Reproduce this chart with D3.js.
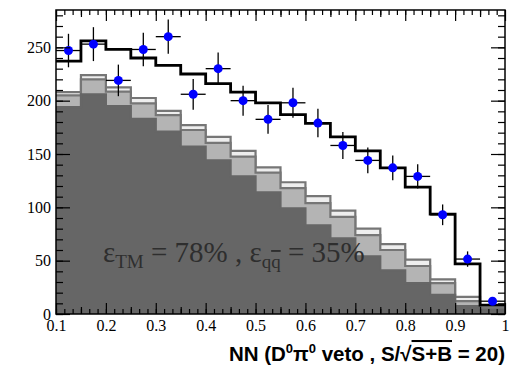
<!DOCTYPE html>
<html>
<head>
<meta charset="utf-8">
<script src="https://cdn.jsdelivr.net/npm/d3@7"></script>
<style>
  body { margin: 0; background: #fff; }
  svg text { font-family: "Liberation Serif", "Times New Roman", serif; }
</style>
</head>
<body>
<div id="chart"></div>
<script>
// bin centres of the NN output histogram (bin width 0.05)
var binCenters = [0.125, 0.175, 0.225, 0.275, 0.325, 0.375, 0.425, 0.475, 0.525,
                  0.575, 0.625, 0.675, 0.725, 0.775, 0.825, 0.875, 0.925, 0.975];
var binWidth = 0.05;

// stacked background components (bottom to top)
var bkgDark  = [194, 206, 195, 183, 171, 157, 144, 129, 114, 99, 83, 71, 54, 41, 29, 18, 7.5, 4];
var bkgLight = [11, 14, 13.5, 14.5, 15.5, 15.5, 16.5, 18.5, 18.5, 19, 21, 20, 20, 19, 16, 11, 4.5, 1.5];
var bkgTop   = [3, 4, 4, 5, 4, 4.5, 5.5, 5.5, 5, 5.5, 6.5, 6, 6, 5.5, 6, 3.5, 4, 2.5];

// total expectation (black line)
var totalMC = [237, 256, 248, 240, 233, 225, 216, 208, 198, 187, 178.7, 166, 153, 137, 119, 93.7, 47, 8.4];

// data points and their errors
var dataVals = [247, 253, 219, 248, 260, 206, 230, 200, 182.5, 198, 179, 158, 144, 137, 129, 93, 51.5, 12];
var dataErrs = [15.7, 15.9, 14.8, 15.7, 16.1, 14.4, 15.2, 14.1, 13.5, 14.1, 13.4, 12.6, 12, 11.7, 11.4, 9.7, 7.2, 3.5];

var xTicks = [0.1, 0.2, 0.3, 0.4, 0.5, 0.6, 0.7, 0.8, 0.9, 1];
var yTicks = [0, 50, 100, 150, 200, 250];

var margin = {top: 10, right: 13, bottom: 56, left: 56},
    width = 518 - margin.left - margin.right,
    height = 370 - margin.top - margin.bottom;

var svg = d3.select("#chart")
  .append("svg")
    .attr("width", 518)
    .attr("height", 370)
  .append("g")
    .attr("transform", "translate(" + margin.left + "," + margin.top + ")");

var x = d3.scaleLinear().domain([0.1, 1]).range([0, width]);
var y = d3.scaleLinear().domain([0, 285]).range([height, 0]);

// build step series: one point per bin low edge plus closing point
function steps(vals) {
  var pts = vals.map(function(v, i) { return [binCenters[i] - binWidth / 2, v]; });
  pts.push([binCenters[vals.length - 1] + binWidth / 2, vals[vals.length - 1]]);
  return pts;
}

var cumDark = bkgDark.slice();
var cumLight = bkgDark.map(function(v, i) { return v + bkgLight[i]; });
var cumTop = cumLight.map(function(v, i) { return v + bkgTop[i]; });

var area = d3.area()
  .curve(d3.curveStepAfter)
  .x(function(d) { return x(d[0]); })
  .y0(height)
  .y1(function(d) { return y(d[1]); });

var line = d3.line()
  .curve(d3.curveStepAfter)
  .x(function(d) { return x(d[0]); })
  .y(function(d) { return y(d[1]); });

var layers = [
  {vals: cumTop, fill: "#eeeeee", stroke: "#767676"},
  {vals: cumLight, fill: "#b4b4b4", stroke: "#767676"},
  {vals: cumDark, fill: "#666666", stroke: "#666666"}
];

layers.forEach(function(l) {
  svg.append("path").attr("d", area(steps(l.vals))).attr("fill", l.fill);
  svg.append("path").attr("d", line(steps(l.vals)))
    .attr("fill", "none").attr("stroke", l.stroke).attr("stroke-width", 2.2);
});

// annotation text
var ann = svg.append("text")
  .attr("x", 47)
  .attr("y", 252)
  .attr("fill", "#2e2e2e")
  .style("font-size", "29px");
ann.append("tspan").text("ε");
ann.append("tspan").attr("dy", 6).style("font-size", "19px").text("TM");
ann.append("tspan").attr("dy", -6).text(" = 78% , ε");
ann.append("tspan").attr("dy", 6).style("font-size", "19px").text("q");
ann.append("tspan").style("font-size", "19px").style("text-decoration", "overline").text("q");
ann.append("tspan").attr("dy", -6).text(" = 35%");

// total expectation
svg.append("path")
  .attr("d", line(steps(totalMC)))
  .attr("fill", "none")
  .attr("stroke", "#000")
  .attr("stroke-width", 2.8);

// data error bars
var pts = svg.selectAll(".pt")
  .data(binCenters.map(function(c, i) { return {x: c, v: dataVals[i], e: dataErrs[i]}; }))
  .enter().append("g").attr("class", "pt");

pts.append("line")
  .attr("x1", function(d) { return x(d.x - binWidth / 2); })
  .attr("x2", function(d) { return x(d.x + binWidth / 2); })
  .attr("y1", function(d) { return y(d.v); })
  .attr("y2", function(d) { return y(d.v); })
  .attr("stroke", "#000").attr("stroke-width", 1.3);
pts.append("line")
  .attr("x1", function(d) { return x(d.x); })
  .attr("x2", function(d) { return x(d.x); })
  .attr("y1", function(d) { return y(d.v - d.e); })
  .attr("y2", function(d) { return y(d.v + d.e); })
  .attr("stroke", "#000").attr("stroke-width", 1.3);
pts.append("circle")
  .attr("cx", function(d) { return x(d.x); })
  .attr("cy", function(d) { return y(d.v); })
  .attr("r", 4.5)
  .attr("fill", "#0000ff");

// axes (ticks inward, ROOT style)
function styleAxis(g) {
  g.select(".domain").remove();
  g.selectAll(".tick line").attr("stroke", "#000").attr("stroke-width", 1.2);
  g.selectAll("text").attr("fill", "#000").style("font-size", "16px")
    .style("font-family", "'Liberation Serif', serif");
}

var yMinor = d3.range(0, 285, 10);
var xMid = d3.range(0.15, 1, 0.1);
var xSmall = d3.range(0, 54).map(function(i) { return 0.1 + i / 60; });

svg.append("g").call(d3.axisLeft(y).tickValues(yMinor).tickSize(-7).tickFormat("")).call(styleAxis);
svg.append("g").call(d3.axisLeft(y).tickValues(yTicks).tickSize(-14).tickPadding(5)).call(styleAxis);
svg.append("g").attr("transform", "translate(" + width + ",0)")
  .call(d3.axisRight(y).tickValues(yMinor).tickSize(-7).tickFormat("")).call(styleAxis);
svg.append("g").attr("transform", "translate(" + width + ",0)")
  .call(d3.axisRight(y).tickValues(yTicks).tickSize(-14).tickFormat("")).call(styleAxis);

svg.append("g").attr("transform", "translate(0," + height + ")")
  .call(d3.axisBottom(x).tickValues(xSmall).tickSize(-5).tickFormat("")).call(styleAxis);
svg.append("g").attr("transform", "translate(0," + height + ")")
  .call(d3.axisBottom(x).tickValues(xMid).tickSize(-7).tickFormat("")).call(styleAxis);
svg.append("g").attr("transform", "translate(0," + height + ")")
  .call(d3.axisBottom(x).tickValues(xTicks).tickSize(-11).tickPadding(6).tickFormat(function(d) { return String(d); }))
  .call(styleAxis);

svg.append("g")
  .call(d3.axisTop(x).tickValues(xSmall).tickSize(-5).tickFormat("")).call(styleAxis);
svg.append("g")
  .call(d3.axisTop(x).tickValues(xMid).tickSize(-7).tickFormat("")).call(styleAxis);
svg.append("g")
  .call(d3.axisTop(x).tickValues(xTicks).tickSize(-11).tickFormat("")).call(styleAxis);

// frame
svg.append("rect")
  .attr("width", width).attr("height", height)
  .attr("fill", "none").attr("stroke", "#000").attr("stroke-width", 1.5);

// x axis title
var xt = svg.append("text")
  .attr("x", width)
  .attr("y", height + 47)
  .attr("text-anchor", "end")
  .style("font-family", "'Liberation Sans', Arial, sans-serif")
  .style("font-weight", "bold")
  .style("font-size", "20.5px");
xt.append("tspan").text("NN (D");
xt.append("tspan").attr("dy", -8).style("font-size", "13px").text("0");
xt.append("tspan").attr("dy", 8).text("π");
xt.append("tspan").attr("dy", -8).style("font-size", "13px").text("0");
xt.append("tspan").attr("dy", 8).text(" veto , S/√");
xt.append("tspan").style("text-decoration", "overline").text("S+B");
xt.append("tspan").text(" = 20)");
</script>
</body>
</html>
